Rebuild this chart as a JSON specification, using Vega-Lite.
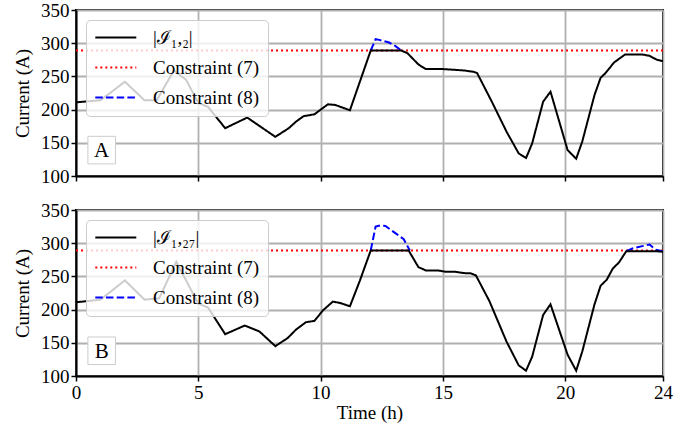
{
  "$schema": "https://vega.github.io/schema/vega-lite/v6.json",
  "padding": {"left": 12, "top": 0, "right": 5, "bottom": 5},
  "background": "white",
  "datasets": {
    "a": [
      {"series": "|ℐ₁,₂|", "t": 0, "v": 211}, {"series": "|ℐ₁,₂|", "t": 1.0, "v": 214},
      {"series": "|ℐ₁,₂|", "t": 2.0, "v": 242}, {"series": "|ℐ₁,₂|", "t": 2.8, "v": 214},
      {"series": "|ℐ₁,₂|", "t": 3.3, "v": 214}, {"series": "|ℐ₁,₂|", "t": 4.0, "v": 259},
      {"series": "|ℐ₁,₂|", "t": 4.5, "v": 245}, {"series": "|ℐ₁,₂|", "t": 5.0, "v": 210},
      {"series": "|ℐ₁,₂|", "t": 5.4, "v": 204}, {"series": "|ℐ₁,₂|", "t": 6.1, "v": 172},
      {"series": "|ℐ₁,₂|", "t": 7.0, "v": 188}, {"series": "|ℐ₁,₂|", "t": 8.15, "v": 159},
      {"series": "|ℐ₁,₂|", "t": 8.7, "v": 172}, {"series": "|ℐ₁,₂|", "t": 9.0, "v": 182},
      {"series": "|ℐ₁,₂|", "t": 9.3, "v": 190}, {"series": "|ℐ₁,₂|", "t": 9.75, "v": 193},
      {"series": "|ℐ₁,₂|", "t": 10.3, "v": 208}, {"series": "|ℐ₁,₂|", "t": 10.6, "v": 207},
      {"series": "|ℐ₁,₂|", "t": 11.2, "v": 199}, {"series": "|ℐ₁,₂|", "t": 12.05, "v": 289},
      {"series": "|ℐ₁,₂|", "t": 13.3, "v": 289}, {"series": "|ℐ₁,₂|", "t": 13.55, "v": 285},
      {"series": "|ℐ₁,₂|", "t": 14.0, "v": 268}, {"series": "|ℐ₁,₂|", "t": 14.3, "v": 261},
      {"series": "|ℐ₁,₂|", "t": 15.0, "v": 261}, {"series": "|ℐ₁,₂|", "t": 15.85, "v": 259},
      {"series": "|ℐ₁,₂|", "t": 16.25, "v": 257}, {"series": "|ℐ₁,₂|", "t": 16.4, "v": 255},
      {"series": "|ℐ₁,₂|", "t": 17.0, "v": 212}, {"series": "|ℐ₁,₂|", "t": 17.6, "v": 167},
      {"series": "|ℐ₁,₂|", "t": 18.1, "v": 134}, {"series": "|ℐ₁,₂|", "t": 18.4, "v": 127},
      {"series": "|ℐ₁,₂|", "t": 18.65, "v": 149}, {"series": "|ℐ₁,₂|", "t": 19.1, "v": 212},
      {"series": "|ℐ₁,₂|", "t": 19.4, "v": 227}, {"series": "|ℐ₁,₂|", "t": 20.1, "v": 139},
      {"series": "|ℐ₁,₂|", "t": 20.45, "v": 126}, {"series": "|ℐ₁,₂|", "t": 20.7, "v": 152},
      {"series": "|ℐ₁,₂|", "t": 21.2, "v": 222}, {"series": "|ℐ₁,₂|", "t": 21.45, "v": 248},
      {"series": "|ℐ₁,₂|", "t": 21.65, "v": 255}, {"series": "|ℐ₁,₂|", "t": 22.0, "v": 271},
      {"series": "|ℐ₁,₂|", "t": 22.45, "v": 283}, {"series": "|ℐ₁,₂|", "t": 23.15, "v": 283},
      {"series": "|ℐ₁,₂|", "t": 23.45, "v": 281}, {"series": "|ℐ₁,₂|", "t": 23.75, "v": 275},
      {"series": "|ℐ₁,₂|", "t": 24, "v": 273},
      {"series": "Constraint (7)", "t": 0, "v": 289}, {"series": "Constraint (7)", "t": 24, "v": 289},
      {"series": "Constraint (8)", "seg": 1, "t": 12.05, "v": 289}, {"series": "Constraint (8)", "seg": 1, "t": 12.25, "v": 306},
      {"series": "Constraint (8)", "seg": 1, "t": 12.4, "v": 305}, {"series": "Constraint (8)", "seg": 1, "t": 12.8, "v": 301},
      {"series": "Constraint (8)", "seg": 1, "t": 13.05, "v": 296}, {"series": "Constraint (8)", "seg": 1, "t": 13.3, "v": 289}
    ],
    "b": [
      {"series": "|ℐ₁,₂₇|", "t": 0, "v": 211}, {"series": "|ℐ₁,₂₇|", "t": 1.0, "v": 215},
      {"series": "|ℐ₁,₂₇|", "t": 2.0, "v": 244}, {"series": "|ℐ₁,₂₇|", "t": 2.8, "v": 215},
      {"series": "|ℐ₁,₂₇|", "t": 3.4, "v": 217}, {"series": "|ℐ₁,₂₇|", "t": 4.1, "v": 272},
      {"series": "|ℐ₁,₂₇|", "t": 5.0, "v": 209}, {"series": "|ℐ₁,₂₇|", "t": 5.4, "v": 203},
      {"series": "|ℐ₁,₂₇|", "t": 6.1, "v": 163}, {"series": "|ℐ₁,₂₇|", "t": 6.9, "v": 176},
      {"series": "|ℐ₁,₂₇|", "t": 7.5, "v": 167}, {"series": "|ℐ₁,₂₇|", "t": 8.15, "v": 145},
      {"series": "|ℐ₁,₂₇|", "t": 8.65, "v": 157}, {"series": "|ℐ₁,₂₇|", "t": 9.0, "v": 170},
      {"series": "|ℐ₁,₂₇|", "t": 9.4, "v": 181}, {"series": "|ℐ₁,₂₇|", "t": 9.75, "v": 183},
      {"series": "|ℐ₁,₂₇|", "t": 10.1, "v": 199}, {"series": "|ℐ₁,₂₇|", "t": 10.5, "v": 212},
      {"series": "|ℐ₁,₂₇|", "t": 10.8, "v": 210}, {"series": "|ℐ₁,₂₇|", "t": 11.2, "v": 205},
      {"series": "|ℐ₁,₂₇|", "t": 11.6, "v": 243}, {"series": "|ℐ₁,₂₇|", "t": 12.05, "v": 289},
      {"series": "|ℐ₁,₂₇|", "t": 13.6, "v": 289}, {"series": "|ℐ₁,₂₇|", "t": 14.0, "v": 264},
      {"series": "|ℐ₁,₂₇|", "t": 14.3, "v": 259}, {"series": "|ℐ₁,₂₇|", "t": 14.8, "v": 259},
      {"series": "|ℐ₁,₂₇|", "t": 15.1, "v": 257}, {"series": "|ℐ₁,₂₇|", "t": 15.5, "v": 257},
      {"series": "|ℐ₁,₂₇|", "t": 15.85, "v": 255}, {"series": "|ℐ₁,₂₇|", "t": 16.15, "v": 254.5},
      {"series": "|ℐ₁,₂₇|", "t": 16.35, "v": 251.5}, {"series": "|ℐ₁,₂₇|", "t": 16.9, "v": 213},
      {"series": "|ℐ₁,₂₇|", "t": 17.6, "v": 152}, {"series": "|ℐ₁,₂₇|", "t": 18.1, "v": 116},
      {"series": "|ℐ₁,₂₇|", "t": 18.4, "v": 108}, {"series": "|ℐ₁,₂₇|", "t": 18.65, "v": 129},
      {"series": "|ℐ₁,₂₇|", "t": 19.1, "v": 192}, {"series": "|ℐ₁,₂₇|", "t": 19.4, "v": 208},
      {"series": "|ℐ₁,₂₇|", "t": 20.1, "v": 132}, {"series": "|ℐ₁,₂₇|", "t": 20.45, "v": 108},
      {"series": "|ℐ₁,₂₇|", "t": 20.7, "v": 137}, {"series": "|ℐ₁,₂₇|", "t": 21.2, "v": 208},
      {"series": "|ℐ₁,₂₇|", "t": 21.45, "v": 236}, {"series": "|ℐ₁,₂₇|", "t": 21.7, "v": 245},
      {"series": "|ℐ₁,₂₇|", "t": 21.95, "v": 262}, {"series": "|ℐ₁,₂₇|", "t": 22.2, "v": 271},
      {"series": "|ℐ₁,₂₇|", "t": 22.5, "v": 288}, {"series": "|ℐ₁,₂₇|", "t": 23.7, "v": 288},
      {"series": "|ℐ₁,₂₇|", "t": 24, "v": 287},
      {"series": "Constraint (7)", "t": 0, "v": 289}, {"series": "Constraint (7)", "t": 24, "v": 289},
      {"series": "Constraint (8)", "seg": 1, "t": 12.05, "v": 289}, {"series": "Constraint (8)", "seg": 1, "t": 12.25, "v": 325},
      {"series": "Constraint (8)", "seg": 1, "t": 12.45, "v": 327}, {"series": "Constraint (8)", "seg": 1, "t": 12.65, "v": 326},
      {"series": "Constraint (8)", "seg": 1, "t": 13.1, "v": 314}, {"series": "Constraint (8)", "seg": 1, "t": 13.4, "v": 306},
      {"series": "Constraint (8)", "seg": 1, "t": 13.65, "v": 289},
      {"series": "Constraint (8)", "seg": 2, "t": 22.5, "v": 288}, {"series": "Constraint (8)", "seg": 2, "t": 22.75, "v": 292},
      {"series": "Constraint (8)", "seg": 2, "t": 23.2, "v": 296}, {"series": "Constraint (8)", "seg": 2, "t": 23.45, "v": 298},
      {"series": "Constraint (8)", "seg": 2, "t": 23.7, "v": 290}, {"series": "Constraint (8)", "seg": 2, "t": 24, "v": 288}
    ],
    "labA": [{"t": 1.05, "v": 139, "label": "A"}],
    "labB": [{"t": 1.05, "v": 138, "label": "B"}]
  },
  "vconcat": [
    {
      "width": 587,
      "height": 166,
      "encoding": {
        "x": {"field": "t", "type": "quantitative", "scale": {"domain": [0, 24], "nice": false},
              "axis": {"values": [0, 5, 10, 15, 20, 24], "labels": false, "title": null}},
        "y": {"field": "v", "type": "quantitative", "scale": {"domain": [100, 350], "nice": false},
              "axis": {"values": [100, 150, 200, 250, 300, 350], "title": "Current (A)"}}
      },
      "layer": [
        {
          "data": {"name": "a"},
          "transform": [{"filter": "datum.series === 'Constraint (7)'"}],
          "mark": {"type": "line", "strokeWidth": 2},
          "encoding": {
            "color": {"field": "series", "type": "nominal",
                      "scale": {"domain": ["|ℐ₁,₂|", "Constraint (7)", "Constraint (8)"], "range": ["#000000", "#ff0000", "#0000ff"]},
                      "legend": {"title": null}},
            "strokeDash": {"field": "series", "type": "nominal",
                      "scale": {"domain": ["|ℐ₁,₂|", "Constraint (7)", "Constraint (8)"], "range": [[1, 0], [2, 3], [7.5, 3.2]]},
                      "legend": {"title": null}}
          }
        },
        {
          "data": {"name": "a"},
          "transform": [{"filter": "datum.series === 'Constraint (8)'"}],
          "mark": {"type": "line", "strokeWidth": 2},
          "encoding": {
            "color": {"field": "series", "type": "nominal"},
            "strokeDash": {"field": "series", "type": "nominal"},
            "detail": {"field": "seg", "type": "nominal"}
          }
        },
        {
          "data": {"name": "a"},
          "transform": [{"filter": "datum.series === '|ℐ₁,₂|'"}],
          "mark": {"type": "line", "strokeWidth": 2},
          "encoding": {
            "color": {"field": "series", "type": "nominal"},
            "strokeDash": {"field": "series", "type": "nominal"}
          }
        },
        {
          "data": {"name": "labA"},
          "mark": {"type": "point", "shape": "square", "size": 760, "filled": true, "fill": "white", "stroke": "#cccccc", "strokeWidth": 1, "opacity": 1}
        },
        {
          "data": {"name": "labA"},
          "mark": {"type": "text", "font": "Liberation Serif", "fontSize": 21, "color": "black", "baseline": "middle", "align": "center", "dy": 1},
          "encoding": {"text": {"field": "label"}}
        }
      ]
    },
    {
      "width": 587,
      "height": 166,
      "encoding": {
        "x": {"field": "t", "type": "quantitative", "scale": {"domain": [0, 24], "nice": false},
              "axis": {"values": [0, 5, 10, 15, 20, 24], "title": "Time (h)"}},
        "y": {"field": "v", "type": "quantitative", "scale": {"domain": [100, 350], "nice": false},
              "axis": {"values": [100, 150, 200, 250, 300, 350], "title": "Current (A)"}}
      },
      "layer": [
        {
          "data": {"name": "b"},
          "transform": [{"filter": "datum.series === 'Constraint (7)'"}],
          "mark": {"type": "line", "strokeWidth": 2},
          "encoding": {
            "color": {"field": "series", "type": "nominal",
                      "scale": {"domain": ["|ℐ₁,₂₇|", "Constraint (7)", "Constraint (8)"], "range": ["#000000", "#ff0000", "#0000ff"]},
                      "legend": {"title": null}},
            "strokeDash": {"field": "series", "type": "nominal",
                      "scale": {"domain": ["|ℐ₁,₂₇|", "Constraint (7)", "Constraint (8)"], "range": [[1, 0], [2, 3], [7.5, 3.2]]},
                      "legend": {"title": null}}
          }
        },
        {
          "data": {"name": "b"},
          "transform": [{"filter": "datum.series === 'Constraint (8)'"}],
          "mark": {"type": "line", "strokeWidth": 2},
          "encoding": {
            "color": {"field": "series", "type": "nominal"},
            "strokeDash": {"field": "series", "type": "nominal"},
            "detail": {"field": "seg", "type": "nominal"}
          }
        },
        {
          "data": {"name": "b"},
          "transform": [{"filter": "datum.series === '|ℐ₁,₂₇|'"}],
          "mark": {"type": "line", "strokeWidth": 2},
          "encoding": {
            "color": {"field": "series", "type": "nominal"},
            "strokeDash": {"field": "series", "type": "nominal"}
          }
        },
        {
          "data": {"name": "labB"},
          "mark": {"type": "point", "shape": "square", "size": 760, "filled": true, "fill": "white", "stroke": "#cccccc", "strokeWidth": 1, "opacity": 1}
        },
        {
          "data": {"name": "labB"},
          "mark": {"type": "text", "font": "Liberation Serif", "fontSize": 21, "color": "black", "baseline": "middle", "align": "center", "dy": 1},
          "encoding": {"text": {"field": "label"}}
        }
      ]
    }
  ],
  "spacing": 13,
  "resolve": {"scale": {"color": "independent", "strokeDash": "independent"}},
  "config": {
    "font": "Liberation Serif",
    "view": {"stroke": "black", "strokeWidth": 2},
    "axis": {
      "labelFont": "Liberation Serif", "labelFontSize": 19, "labelColor": "black",
      "titleFont": "Liberation Serif", "titleFontSize": 19, "titleFontWeight": "normal", "titleColor": "black",
      "domainColor": "black", "domainWidth": 2, "tickColor": "black", "tickWidth": 1.5, "tickSize": 5,
      "gridColor": "#b0b0b0", "gridWidth": 1.8, "gridOpacity": 1, "labelPadding": 2, "labelFlush": false, "labelOverlap": false
    },
    "axisY": {"titlePadding": 8},
    "axisX": {"titlePadding": 1},
    "legend": {
      "orient": "top-left", "offset": 10, "fillColor": "rgba(255,255,255,0.8)", "strokeColor": "#cccccc",
      "cornerRadius": 4, "padding": 8, "labelFont": "Liberation Serif", "labelFontSize": 19, "labelColor": "black",
      "symbolType": "M-1,0H4", "symbolSize": 269, "symbolStrokeWidth": 2, "rowPadding": 10, "labelOffset": 40, "labelLimit": 300
    }
  }
}
